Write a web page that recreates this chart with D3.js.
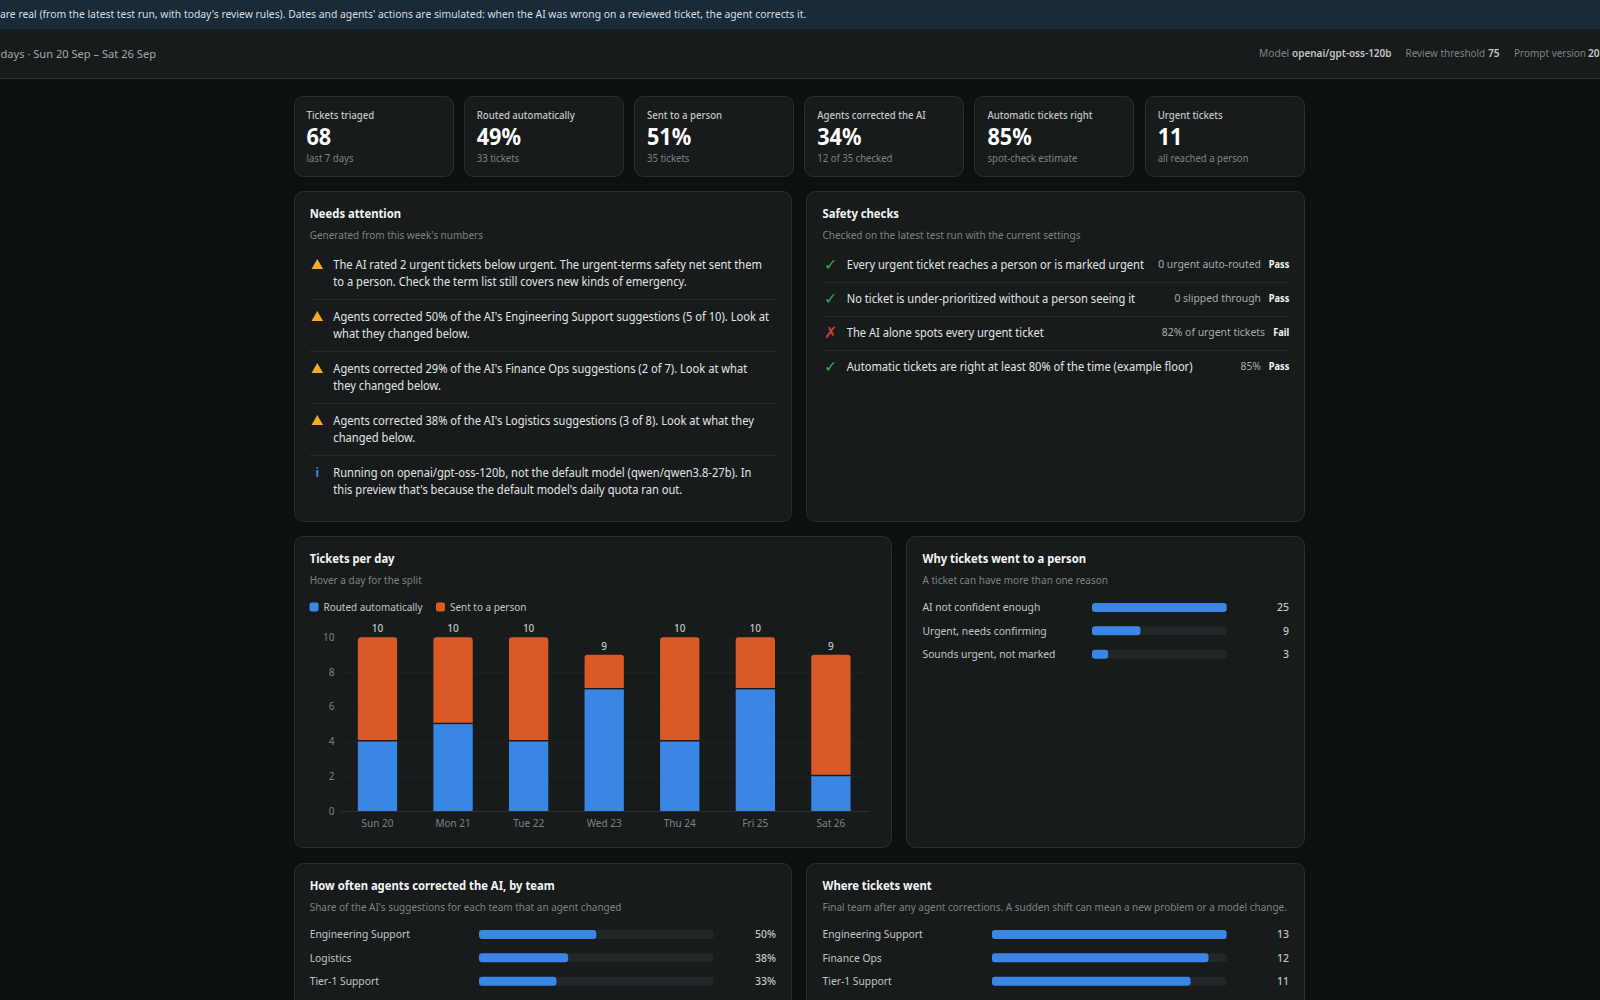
<!DOCTYPE html>
<html><head><meta charset="utf-8">
<script src="https://cdn.jsdelivr.net/npm/d3@7/dist/d3.min.js"></script>
<style>html,body{margin:0;padding:0;background:#0d1010;overflow:hidden}svg{display:block}text{font-family:"Noto Sans",sans-serif}</style>
</head><body><svg id="c" width="1600" height="1000"></svg>
<script>
const bannerText="are real (from the latest test run, with today's review rules). Dates and agents' actions are simulated: when the AI was wrong on a reviewed ticket, the agent corrects it.";
const headerLeft="days · Sun 20 Sep – Sat 26 Sep";
const kpiLabels=["Tickets triaged","Routed automatically","Sent to a person","Agents corrected the AI","Automatic tickets right","Urgent tickets"];
const kpiValues=["68","49%","51%","34%","85%","11"];
const kpiNotes=["last 7 days","33 tickets","35 tickets","12 of 35 checked","spot-check estimate","all reached a person"];
const attentionIcons=["warn","warn","warn","warn","info"];
const attentionLines=[
["The AI rated 2 urgent tickets below urgent. The urgent-terms safety net sent them","to a person. Check the term list still covers new kinds of emergency."],
["Agents corrected 50% of the AI's Engineering Support suggestions (5 of 10). Look at","what they changed below."],
["Agents corrected 29% of the AI's Finance Ops suggestions (2 of 7). Look at what","they changed below."],
["Agents corrected 38% of the AI's Logistics suggestions (3 of 8). Look at what they","changed below."],
["Running on openai/gpt-oss-120b, not the default model (qwen/qwen3.8-27b). In","this preview that's because the default model's daily quota ran out."]];
const checkNames=["Every urgent ticket reaches a person or is marked urgent","No ticket is under-prioritized without a person seeing it","The AI alone spots every urgent ticket","Automatic tickets are right at least 80% of the time (example floor)"];
const checkDetails=["0 urgent auto-routed","0 slipped through","82% of urgent tickets","85%"];
const checkResults=["Pass","Pass","Fail","Pass"];
const days=["Sun 20","Mon 21","Tue 22","Wed 23","Thu 24","Fri 25","Sat 26"];
const routedAuto=[4,5,4,7,4,7,2];
const sentToPerson=[6,5,6,2,6,3,7];
const yTicks=[0,2,4,6,8,10];
const reasons=["AI not confident enough","Urgent, needs confirming","Sounds urgent, not marked"];
const reasonCounts=[25,9,3];
const correctionTeams=["Engineering Support","Logistics","Tier-1 Support"];
const correctionRates=[50,38,33];
const destTeams=["Engineering Support","Finance Ops","Tier-1 Support"];
const destCounts=[13,12,11];

const C={page:"#0d1010",card:"#181b1c",border:"#2b2f30",line:"#272b2c",white:"#f4f6f6",text:"#e2e5e5",soft:"#c3c7c7",mute:"#7d8383",blue:"#3a86e5",orange:"#d95a25",track:"#222728",banner:"#1a2a36",head:"#181b1c"};
const svg=d3.select("#c");
function T(x,y,s,o={}){const t=svg.append("text").attr("x",x).attr("y",y-.6).attr("dominant-baseline","central")
  .attr("text-anchor",o.a||"start").attr("font-size",o.s||12).attr("font-weight",o.w||400).attr("fill",o.f||C.text)
  .attr("font-family",o.ff||null).text(s);
  if(o.k){const n=t.node().getComputedTextLength();t.attr("textLength",n*o.k).attr("lengthAdjust","spacingAndGlyphs");}
  return t;}
function card(x,y,w,h,r=9){svg.append("rect").attr("x",Math.floor(x)+.5).attr("y",y+.5).attr("width",Math.round(w)-1).attr("height",h-1).attr("rx",r).attr("fill",C.card).attr("stroke",C.border);}
function heading(x,y,t,s){T(x,y,t,{s:12,w:700,f:C.white,k:.9375});T(x,y+21.5,s,{s:10.5,f:C.mute,k:.95});}

// top strips
svg.append("rect").attr("width",1600).attr("height",29).attr("fill",C.banner);
T(0,15,bannerText,{s:10.5,f:"#d9dfe2",k:.985});
svg.append("rect").attr("y",29).attr("width",1600).attr("height",49).attr("fill",C.head);
svg.append("rect").attr("y",78).attr("width",1600).attr("height",1).attr("fill",C.border);
T(156,54,headerLeft,{s:11.5,a:"end",f:"#a4a9a9",k:.965});
T(1259,54,"Model",{s:10.5,f:C.mute,k:.97});T(1292,54,"openai/gpt-oss-120b",{s:10.5,w:600,f:C.soft,k:.95});
T(1405.5,54,"Review threshold",{s:10.5,f:C.mute,k:.945});T(1488,54,"75",{s:10.5,w:600,f:C.soft,k:.97});
T(1514,54,"Prompt version",{s:10.5,f:C.mute,k:.95});T(1588,54,"20",{s:10.5,w:600,f:C.soft,k:.97});

// KPI cards
const kx=d3.scaleBand().domain(d3.range(6)).range([294,1305.5]).paddingInner(.0585);
kpiLabels.forEach((l,i)=>{const x=kx(i);card(x,96,kx.bandwidth(),81);
  T(x+12.5,116,l,{s:10.5,w:500,f:C.soft,k:.915});T(x+12.5,136.5,kpiValues[i],{s:23,w:700,f:"#fff",k:.94});T(x+12.5,158.5,kpiNotes[i],{s:10.5,f:C.mute,k:.91});});

// Needs attention
card(294,191,498,331);heading(309.7,214,"Needs attention","Generated from this week's numbers");
attentionLines.forEach((ls,i)=>{const y0=265+52*i;
  if(attentionIcons[i]==="warn")svg.append("path").attr("d",d3.symbol(d3.symbolTriangle,58)()).attr("transform",`translate(317.3,${y0+.6})`).attr("fill","#f5a82a");
  else T(317.3,y0,"i",{s:12,w:700,a:"middle",f:C.blue,ff:"DejaVu Serif"});
  ls.forEach((s,j)=>T(333.3,y0+17*j,s,{s:12,f:C.text,k:.928}));
  if(i<4)svg.append("rect").attr("x",310).attr("y",y0+34).attr("width",466).attr("height",1).attr("fill",C.line);});

// Safety
card(806,191,499,331);heading(822.5,214,"Safety checks","Checked on the latest test run with the current settings");
checkNames.forEach((n,i)=>{const y=265+34*i,p=checkResults[i]==="Pass";
  T(830,y,p?"✓":"✗",{s:16,w:400,a:"middle",f:p?"#2fa84a":"#d13c3c",ff:"DejaVu Sans"});
  T(846.7,y,n,{s:12,k:.928});
  T(1289.3,y,checkResults[i],{s:10,w:700,a:"end",f:C.white,k:.92});
  T(p?1261:1265,y,checkDetails[i],{s:10.5,a:"end",f:"#a6abab",k:.99});
  if(i<3)svg.append("rect").attr("x",822).attr("y",y+17).attr("width",467).attr("height",1).attr("fill",C.line);});

// Tickets per day
card(294,536,598,312);heading(309.7,559,"Tickets per day","Hover a day for the split");
[[309.5,"Routed automatically",C.blue],[436,"Sent to a person",C.orange]].forEach(([x,t,c])=>{
  svg.append("rect").attr("x",x).attr("y",602.5).attr("width",9).attr("height",9).attr("rx",2).attr("fill",c);
  T(x+14,607.7,t,{s:10.5,f:C.soft,k:.945});});
const x=d3.scaleBand().domain(days).range([339.7,868.7]).paddingInner(.48).paddingOuter(.24);
const y=d3.scaleLinear().domain([0,10]).range([811,637.3]);
const gy=svg.append("g").attr("transform","translate(340.5,0)").call(d3.axisLeft(y).tickValues(yTicks).tickSize(0).tickPadding(6));
gy.select(".domain").remove();
gy.selectAll("text").attr("font-family",null).attr("font-size",10).attr("fill",C.mute);
gy.selectAll("line").attr("x2",529).attr("stroke","#1f2324").attr("stroke-width",1);
const gx=svg.append("g").attr("transform","translate(0,811)").call(d3.axisBottom(x).tickSize(0).tickPadding(9));
gx.select(".domain").attr("stroke","#2a2e2f");
gx.selectAll("text").attr("font-family",null).attr("font-size",10).attr("fill",C.mute);
const topRound=(x0,y0,w,h,r)=>`M${x0},${y0+h}V${y0+r}Q${x0},${y0} ${x0+r},${y0}H${x0+w-r}Q${x0+w},${y0} ${x0+w},${y0+r}V${y0+h}Z`;
svg.append("g").selectAll("rect").data(days).join("rect").attr("x",d=>x(d)).attr("width",x.bandwidth())
  .attr("y",(d,i)=>y(routedAuto[i])).attr("height",(d,i)=>y(0)-y(routedAuto[i])).attr("fill",C.blue);
svg.append("g").selectAll("path").data(days).join("path").attr("fill",C.orange)
  .attr("d",(d,i)=>{const t=y(routedAuto[i]+sentToPerson[i]),b=y(routedAuto[i])-1.5;return topRound(x(d),t,x.bandwidth(),b-t,3);});
days.forEach((d,i)=>T(x(d)+x.bandwidth()/2,y(routedAuto[i]+sentToPerson[i])-8.5,routedAuto[i]+sentToPerson[i],{s:10,w:500,a:"middle",f:C.soft}));

// Why
card(906,536,399,312);heading(922.5,559,"Why tickets went to a person","A ticket can have more than one reason");
function bars(names,vals,max,lx,tx,tw,vx,y0,step,fmt){
  const s=d3.scaleLinear().domain([0,max]).range([0,tw]);
  names.forEach((n,i)=>{const yy=y0+step*i;
    T(lx,yy+.4,n,{s:10.5,f:C.soft,k:.98});
    svg.append("rect").attr("x",tx).attr("y",yy-4.5).attr("width",tw).attr("height",9).attr("rx",3).attr("fill",C.track);
    svg.append("rect").attr("x",tx).attr("y",yy-4.5).attr("width",s(vals[i])).attr("height",9).attr("rx",3).attr("fill",C.blue);
    T(vx,yy+.4,fmt(vals[i]),{s:10.5,w:500,a:"end",f:C.soft});});}
bars(reasons,reasonCounts,25,922.5,1092,134.7,1289,607.4,23.4,v=>v);

// Bottom
card(294,863,498,160);heading(309.7,886,"How often agents corrected the AI, by team","Share of the AI's suggestions for each team that an agent changed");
bars(correctionTeams,correctionRates,100,309.7,479,234.6,776,934.4,23.4,v=>v+"%");
card(806,863,499,160);heading(822.5,886,"Where tickets went","Final team after any agent corrections. A sudden shift can mean a new problem or a model change.");
bars(destTeams,destCounts,13,822.5,992,234.6,1289,934.4,23.4,v=>v);
</script></body></html>
